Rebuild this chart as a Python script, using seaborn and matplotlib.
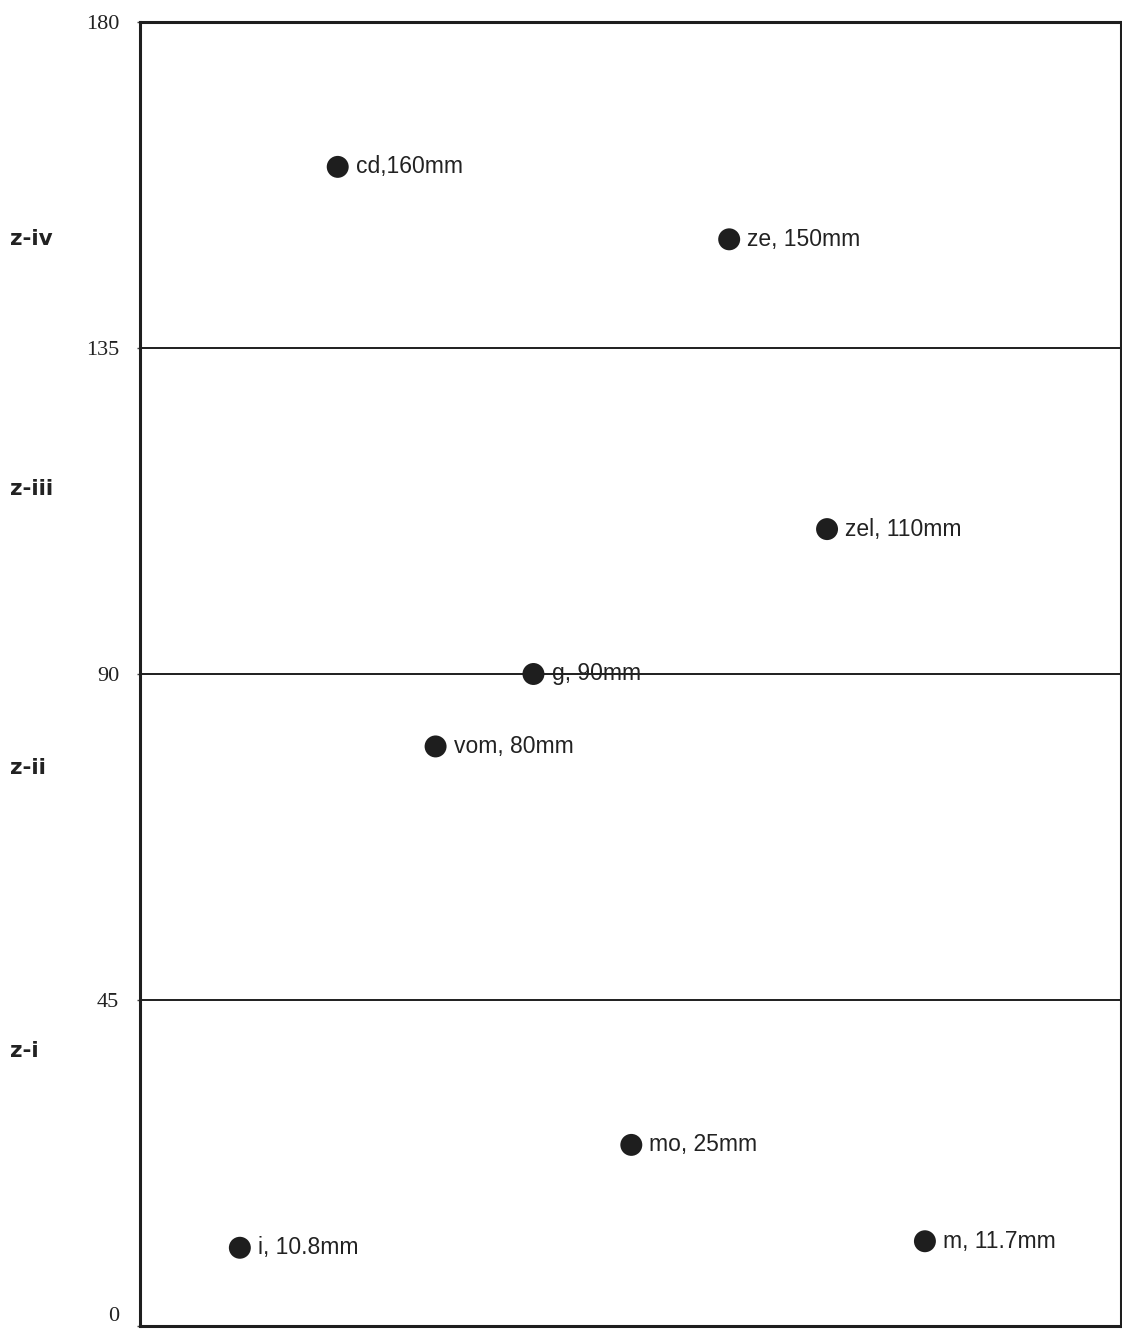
import matplotlib
matplotlib.use("Agg")
import matplotlib.pyplot as plt
import matplotlib.transforms as mtransforms
import seaborn as sns
import pandas as pd

# ---- data ----
names = ["i", "cd", "vom", "g", "mo", "ze", "zel", "m"]
positions = [1, 2, 3, 4, 5, 6, 7, 8]
values = [10.8, 160, 80, 90, 25, 150, 110, 11.7]
labels = ["i, 10.8mm", "cd,160mm", "vom, 80mm", "g, 90mm",
          "mo, 25mm", "ze, 150mm", "zel, 110mm", "m, 11.7mm"]
yticks = [0, 45, 90, 135, 180]
zone_names = ["z-i", "z-ii", "z-iii", "z-iv"]
zone_label_y = [38, 77, 115.5, 150]
boundaries = [45, 90, 135]

df = pd.DataFrame({"pos": positions, "value": values, "label": labels})

sns.set_theme(style="white")
plt.rcParams["font.family"] = ["Liberation Sans", "DejaVu Sans"]

fig = plt.figure(figsize=(11.22, 13.32), dpi=100)
ax = fig.add_axes([0.1248, 0.0045, 0.874, 0.979])

sns.scatterplot(data=df, x="pos", y="value", s=250, color="#1e1e1e",
                edgecolor="none", ax=ax, zorder=3)

for b in boundaries:
    ax.axhline(b, color="#1e1e1e", lw=1.4, zorder=2)

for _, r in df.iterrows():
    ax.annotate(r["label"], (r["pos"], r["value"]), xytext=(13, 0),
                textcoords="offset points", va="center", ha="left",
                fontsize=16.5, color="#222222", zorder=4)

ax.set_xlim(-0.02, 10.0)
ax.set_ylim(0, 180)
ax.set_xticks([])
ax.set_yticks(yticks)
ax.set_yticklabels([str(t) for t in yticks], family="Liberation Serif",
                   fontsize=16, color="#222222")
ax.tick_params(axis="y", length=2, width=1, pad=13, left=True, color="#444444")
# nudge the bottom "0" label up slightly so it stays inside the canvas
lbl0 = ax.get_yticklabels()[0]
lbl0.set_verticalalignment("bottom")
ax.set_xlabel("")
ax.set_ylabel("")

for sp in ax.spines.values():
    sp.set_visible(True)
    sp.set_color("#1e1e1e")
    sp.set_linewidth(2.2)

trans = mtransforms.blended_transform_factory(fig.transFigure, ax.transData)
for name, yv in zip(zone_names, zone_label_y):
    ax.text(10 / 1122, yv, name, transform=trans, ha="left", va="center",
            fontsize=15.5, fontweight="bold", family="DejaVu Sans",
            color="#222222", clip_on=False)

fig.savefig("out.png", dpi=100)
